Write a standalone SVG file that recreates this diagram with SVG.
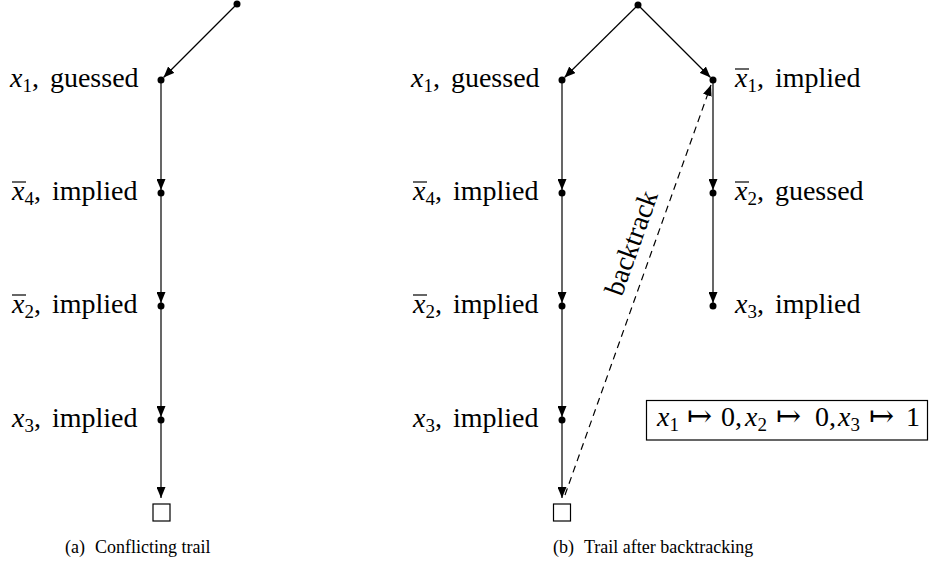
<svg xmlns="http://www.w3.org/2000/svg" width="930" height="566" viewBox="0 0 930 566">
<style>
.lbl{font-size:28px;fill:#000;word-spacing:4px}
.mi{font-style:italic}
.sub{font-size:19px}
.cap{font-size:18px;fill:#000}
.arr{font-size:30px;fill:#000}
.edge{stroke:#000;stroke-width:1.2;fill:none;marker-end:url(#ah)}
.dash{stroke:#000;stroke-width:1.2;fill:none;stroke-dasharray:7 5;marker-end:url(#ah)}
.ol{stroke:#000;stroke-width:1.2}
.dot{fill:#000}
.box{fill:#fff;stroke:#000;stroke-width:1.2}
</style>
<defs>
<marker id="ah" markerUnits="userSpaceOnUse" markerWidth="11" markerHeight="9" refX="11" refY="4.5" orient="auto">
<path d="M0,0 L11,4.5 L0,9 z" fill="#000"/>
</marker>
</defs>
<g font-family="Liberation Serif, DejaVu Serif, serif">
<g id="connectors">
<line class="edge" x1="237" y1="4" x2="163.5" y2="77.5"/>
<line class="edge" x1="161" y1="80" x2="161" y2="190"/>
<line class="edge" x1="161" y1="193" x2="161" y2="303"/>
<line class="edge" x1="161" y1="306" x2="161" y2="417"/>
<line class="edge" x1="161" y1="420" x2="161" y2="498"/>

<line class="edge" x1="638" y1="5" x2="564.5" y2="77.5"/>
<line class="edge" x1="638" y1="5" x2="710.5" y2="77.5"/>
<line class="edge" x1="562" y1="80" x2="562" y2="190"/>
<line class="edge" x1="562" y1="193" x2="562" y2="303"/>
<line class="edge" x1="562" y1="306" x2="562" y2="417"/>
<line class="edge" x1="562" y1="420" x2="562" y2="498"/>
<line class="edge" x1="713" y1="80" x2="713" y2="190"/>
<line class="edge" x1="713" y1="193" x2="713" y2="303"/>
<line class="dash" x1="565" y1="495" x2="711" y2="85"/>
<text class="lbl" x="640" y="246" text-anchor="middle" transform="rotate(-70.3 640 246)" style="word-spacing:0">backtrack</text>
</g>

<g id="a-root"><circle class="dot" cx="237" cy="4" r="3.5"/></g>
<g id="a-x1">
<circle class="dot" cx="161" cy="80" r="3.5"/>
<text class="lbl" x="10" y="87"><tspan class="mi">x</tspan><tspan class="sub" dy="5">1</tspan><tspan dy="-5">, guessed</tspan></text>
</g>
<g id="a-nx4">
<circle class="dot" cx="161" cy="193" r="3.5"/>
<line class="ol" x1="12" y1="182" x2="26" y2="182"/>
<text class="lbl" x="12" y="200"><tspan class="mi">x</tspan><tspan class="sub" dy="5">4</tspan><tspan dy="-5">, implied</tspan></text>
</g>
<g id="a-nx2">
<circle class="dot" cx="161" cy="306" r="3.5"/>
<line class="ol" x1="12" y1="295" x2="26" y2="295"/>
<text class="lbl" x="12" y="313"><tspan class="mi">x</tspan><tspan class="sub" dy="5">2</tspan><tspan dy="-5">, implied</tspan></text>
</g>
<g id="a-x3">
<circle class="dot" cx="161" cy="420" r="3.5"/>
<text class="lbl" x="12" y="427"><tspan class="mi">x</tspan><tspan class="sub" dy="5">3</tspan><tspan dy="-5">, implied</tspan></text>
</g>
<g id="a-conflict"><rect x="153" y="504" width="17" height="17" fill="#fff" stroke="#000" stroke-width="1.2"/></g>
<g id="a-caption"><text class="cap" x="65" y="553">(a)</text><text class="cap" x="95" y="553">Conflicting trail</text></g>

<g id="b-root"><circle class="dot" cx="638" cy="5" r="3.5"/></g>
<g id="b-x1">
<circle class="dot" cx="562" cy="80" r="3.5"/>
<text class="lbl" x="411" y="87"><tspan class="mi">x</tspan><tspan class="sub" dy="5">1</tspan><tspan dy="-5">, guessed</tspan></text>
</g>
<g id="b-nx4">
<circle class="dot" cx="562" cy="193" r="3.5"/>
<line class="ol" x1="413" y1="182" x2="427" y2="182"/>
<text class="lbl" x="413" y="200"><tspan class="mi">x</tspan><tspan class="sub" dy="5">4</tspan><tspan dy="-5">, implied</tspan></text>
</g>
<g id="b-nx2">
<circle class="dot" cx="562" cy="306" r="3.5"/>
<line class="ol" x1="413" y1="295" x2="427" y2="295"/>
<text class="lbl" x="413" y="313"><tspan class="mi">x</tspan><tspan class="sub" dy="5">2</tspan><tspan dy="-5">, implied</tspan></text>
</g>
<g id="b-x3">
<circle class="dot" cx="562" cy="420" r="3.5"/>
<text class="lbl" x="413" y="427"><tspan class="mi">x</tspan><tspan class="sub" dy="5">3</tspan><tspan dy="-5">, implied</tspan></text>
</g>
<g id="b-conflict"><rect x="553.5" y="504" width="17" height="17" fill="#fff" stroke="#000" stroke-width="1.2"/></g>
<g id="b-nx1">
<circle class="dot" cx="713" cy="80" r="3.5"/>
<line class="ol" x1="735" y1="69" x2="749" y2="69"/>
<text class="lbl" x="735" y="87"><tspan class="mi">x</tspan><tspan class="sub" dy="5">1</tspan><tspan dy="-5">, implied</tspan></text>
</g>
<g id="b-nx2g">
<circle class="dot" cx="713" cy="193" r="3.5"/>
<line class="ol" x1="735" y1="182" x2="749" y2="182"/>
<text class="lbl" x="735" y="200"><tspan class="mi">x</tspan><tspan class="sub" dy="5">2</tspan><tspan dy="-5">, guessed</tspan></text>
</g>
<g id="b-x3r">
<circle class="dot" cx="713" cy="306" r="3.5"/>
<text class="lbl" x="735" y="313"><tspan class="mi">x</tspan><tspan class="sub" dy="5">3</tspan><tspan dy="-5">, implied</tspan></text>
</g>
<g id="b-assign">
<rect class="box" x="646.5" y="400.5" width="281" height="39.5"/>
<text class="lbl" x="657" y="426"><tspan class="mi">x</tspan><tspan class="sub" dy="5">1</tspan></text>
<text class="arr" x="687" y="426" font-family="DejaVu Serif, serif">↦</text>
<text class="lbl" x="721" y="426">0,</text>
<text class="lbl" x="745" y="426"><tspan class="mi">x</tspan><tspan class="sub" dy="5">2</tspan></text>
<text class="arr" x="776" y="426" font-family="DejaVu Serif, serif">↦</text>
<text class="lbl" x="815" y="426">0,</text>
<text class="lbl" x="838" y="426"><tspan class="mi">x</tspan><tspan class="sub" dy="5">3</tspan></text>
<text class="arr" x="869" y="426" font-family="DejaVu Serif, serif">↦</text>
<text class="lbl" x="906" y="426">1</text>
</g>
<g id="b-caption"><text class="cap" x="553" y="553">(b)</text><text class="cap" x="584" y="553">Trail after backtracking</text></g>
</g>
</svg>
